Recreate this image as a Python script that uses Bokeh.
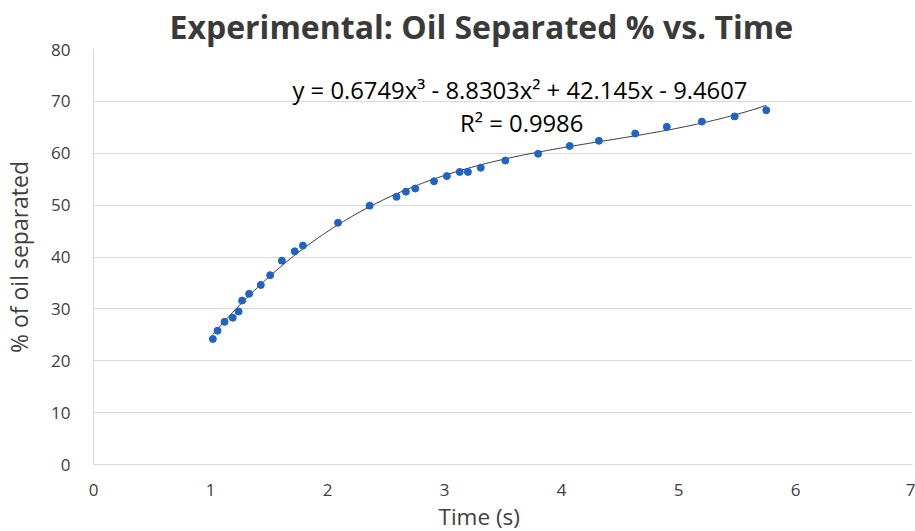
from bokeh.plotting import figure
from bokeh.models import ColumnDataSource, Label, Title, FixedTicker
from bokeh.embed import file_html
from bokeh.resources import INLINE
import numpy as np

# Measured time (s) and oil separated (%)
time_s = [1.02, 1.06, 1.12, 1.19, 1.24, 1.27, 1.33, 1.43, 1.51, 1.61, 1.72, 1.79,
          2.09, 2.36, 2.59, 2.67, 2.75, 2.91, 3.02, 3.13, 3.20, 3.31, 3.52, 3.80,
          4.07, 4.32, 4.63, 4.90, 5.20, 5.48, 5.75]
oil_pct = [24.2, 25.8, 27.5, 28.3, 29.5, 31.6, 32.9, 34.6, 36.5, 39.3, 41.1, 42.2,
           46.6, 49.9, 51.6, 52.6, 53.2, 54.6, 55.6, 56.4, 56.4, 57.2, 58.6, 59.9,
           61.4, 62.4, 63.8, 65.1, 66.1, 67.1, 68.3]

# Cubic trendline coefficients (highest power first) and fit quality
poly_coef = [0.6749, -8.8303, 42.145, -9.4607]
r_squared = 0.9986

x_ticks = [0, 1, 2, 3, 4, 5, 6, 7]
y_ticks = [0, 10, 20, 30, 40, 50, 60, 70, 80]

FONT = "Open Sans"
TICK_COLOR = "#404040"
GRID_COLOR = "#d9d9d9"

p = figure(width=915, height=531, output_backend="svg", toolbar_location=None,
           x_range=(0, 7), y_range=(0, 80),
           min_border_left=92, min_border_right=3, min_border_top=49,
           min_border_bottom=66)
p.outline_line_color = None
p.background_fill_color = "white"
p.border_fill_color = "white"

# Title, placed over the plot area
p.title = Title(text="Experimental: Oil Separated % vs. Time", align="left",
                offset=76, standoff=4, text_font=FONT, text_font_size="32px",
                text_font_style="bold", text_color="#3a3a3a")

# Axes
p.xaxis.ticker = FixedTicker(ticks=x_ticks)
p.yaxis.ticker = FixedTicker(ticks=y_ticks)
for ax in (p.xaxis[0], p.yaxis[0]):
    ax.major_tick_line_color = None
    ax.minor_tick_line_color = None
    ax.axis_line_color = GRID_COLOR
    ax.major_label_text_font = FONT
    ax.major_label_text_font_size = "17px"
    ax.major_label_text_color = TICK_COLOR
p.xaxis.major_label_standoff = 13
p.yaxis.major_label_standoff = 17

p.yaxis.axis_label = "% of oil separated"
p.yaxis.axis_label_text_font = FONT
p.yaxis.axis_label_text_font_size = "23px"
p.yaxis.axis_label_text_font_style = "normal"
p.yaxis.axis_label_text_color = TICK_COLOR
p.yaxis.axis_label_standoff = 13

p.add_layout(Title(text="Time (s)", align="left", offset=345, standoff=0,
                   text_font=FONT, text_font_size="22.5px",
                   text_font_style="normal", text_color=TICK_COLOR), "below")

p.xgrid.grid_line_color = None
p.ygrid.grid_line_color = GRID_COLOR
p.ygrid.grid_line_width = 1

# Trendline drawn from the fitted cubic
xs = np.linspace(min(time_s), max(time_s), 200)
ys = np.polyval(poly_coef, xs)
p.line(xs, ys, line_color="#3a3a3a", line_width=1)

src = ColumnDataSource(data=dict(x=time_s, y=oil_pct))
p.scatter("x", "y", source=src, size=7, fill_color="#1f63c6",
          line_color="#1f63c6")

a, b, c, d = poly_coef
eq_text = f"y = {a}x³ - {abs(b)}x² + {c}x - {abs(d)}"
p.add_layout(Label(x=3.645, y=72.2, text=eq_text, text_align="center",
                   text_baseline="middle", text_font=FONT,
                   text_font_size="23.8px", text_color="#000000"))
p.add_layout(Label(x=3.66, y=65.9, text=f"R² = {r_squared}", text_align="center",
                   text_baseline="middle", text_font=FONT,
                   text_font_size="23.8px", text_color="#000000"))

open("out.html", "w").write(file_html(p, INLINE))
